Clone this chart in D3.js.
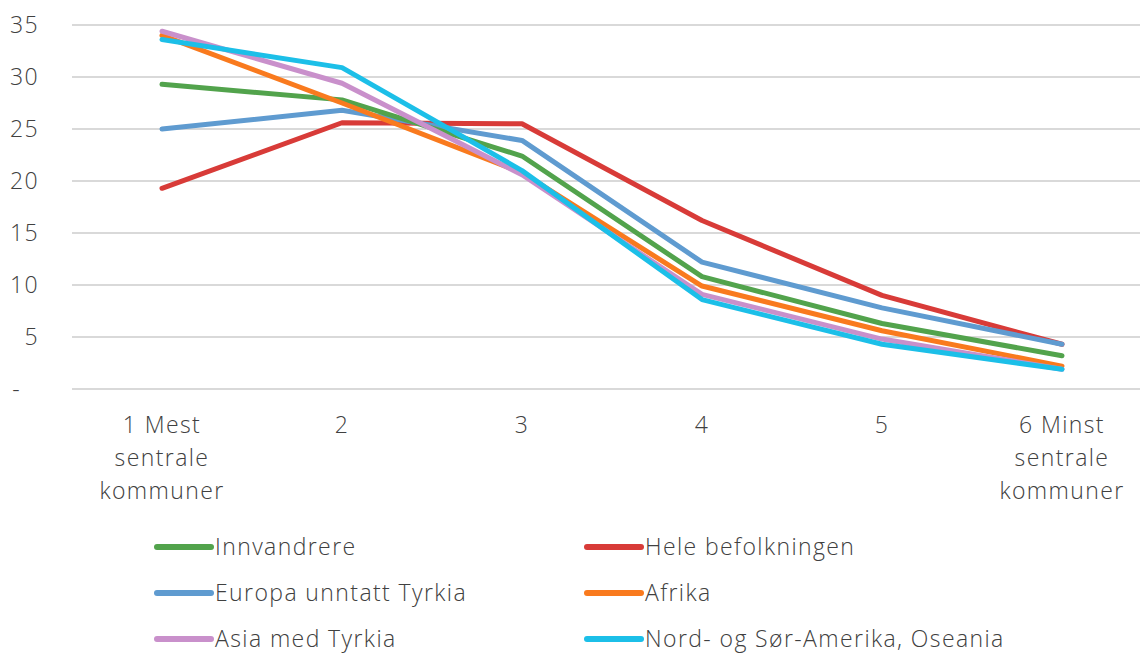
<!DOCTYPE html>
<html>
<head>
<meta charset="utf-8">
<script src="https://cdn.jsdelivr.net/npm/d3@7"></script>
<style>
  body { margin: 0; background: #fff; }
  svg text { font-family: "Open Sans", "Lato", sans-serif; font-weight: 300; fill: #404040; letter-spacing: 1.4px; }
</style>
</head>
<body>
<div id="wrapper"></div>
<script>
const width = 1140,
    height = 655;

const categories = ["1 Mest\nsentrale\nkommuner", "2", "3", "4", "5", "6 Minst\nsentrale\nkommuner"];
const yTicks = [0, 5, 10, 15, 20, 25, 30, 35];

const innvandrere = [29.3, 27.8, 22.4, 10.8, 6.3, 3.2];
const heleBefolkningen = [19.3, 25.6, 25.5, 16.2, 9.0, 4.3];
const europa = [25.0, 26.8, 23.9, 12.2, 7.8, 4.3];
const afrika = [34.0, 27.5, 20.8, 9.9, 5.6, 2.2];
const asia = [34.4, 29.4, 20.6, 9.1, 4.8, 1.9];
const amerika = [33.6, 30.9, 21.0, 8.6, 4.3, 1.9];

const series = [
    {name: "Innvandrere", values: innvandrere, color: "#52a34c"},
    {name: "Hele befolkningen", values: heleBefolkningen, color: "#d83b38"},
    {name: "Europa unntatt Tyrkia", values: europa, color: "#5f9bd0"},
    {name: "Afrika", values: afrika, color: "#f97a1e"},
    {name: "Asia med Tyrkia", values: asia, color: "#c990cb"},
    {name: "Nord- og Sør-Amerika, Oseania", values: amerika, color: "#1cbfe8"}
];
// drawing order (later on top)
const drawOrder = [1, 2, 0, 3, 4, 5];

const svg = d3.select("#wrapper")
    .append("svg")
    .attr("width", width)
    .attr("height", height);

const x = d3.scalePoint()
    .domain(categories)
    .range([72, 1152])
    .padding(0.5);

const y = d3.scaleLinear()
    .domain([0, 35])
    .range([389, 25]);

// gridlines
svg.append("g")
    .selectAll("line")
    .data(yTicks)
    .enter().append("line")
    .attr("x1", 72)
    .attr("x2", width)
    .attr("y1", d => y(d))
    .attr("y2", d => y(d))
    .style("stroke", "#d9d9d9")
    .style("stroke-width", 2);

// y labels
svg.append("g")
    .selectAll("text")
    .data(yTicks)
    .enter().append("text")
    .attr("x", d => d === 0 ? 21 : 39)
    .attr("y", d => y(d))
    .attr("dy", "0.35em")
    .attr("text-anchor", "end")
    .style("font-size", "23px")
    .text(d => d === 0 ? "-" : d);

// x labels
const xl = svg.append("g")
    .selectAll("text")
    .data(categories)
    .enter().append("text")
    .attr("x", d => x(d))
    .attr("y", 425)
    .attr("text-anchor", "middle")
    .style("font-size", "23px");

xl.selectAll("tspan")
    .data(d => d.split("\n").map(t => ({t: t, key: d})))
    .enter().append("tspan")
    .attr("x", d => x(d.key))
    .attr("dy", (d, i) => i === 0 ? "0.35em" : "33px")
    .text(d => d.t);

const line = d3.line()
    .x((d, i) => x(categories[i]))
    .y(d => y(d));

svg.append("g")
    .selectAll("path")
    .data(drawOrder.map(i => series[i]))
    .enter().append("path")
    .attr("d", d => line(d.values))
    .style("fill", "none")
    .style("stroke", d => d.color)
    .style("stroke-width", 5)
    .style("stroke-linejoin", "round")
    .style("stroke-linecap", "round");

// legend
const legend = svg.append("g")
    .selectAll("g")
    .data(series)
    .enter().append("g")
    .attr("transform", (d, i) => "translate(" + (i % 2 === 0 ? 157 : 587) + "," + (547 + Math.floor(i / 2) * 46) + ")");

legend.append("line")
    .attr("x1", 0)
    .attr("x2", 54)
    .style("stroke", d => d.color)
    .style("stroke-width", 6)
    .style("stroke-linecap", "round");

legend.append("text")
    .attr("x", 58)
    .attr("dy", "0.35em")
    .style("font-size", "23px")
    .text(d => d.name);
</script>
</body>
</html>
